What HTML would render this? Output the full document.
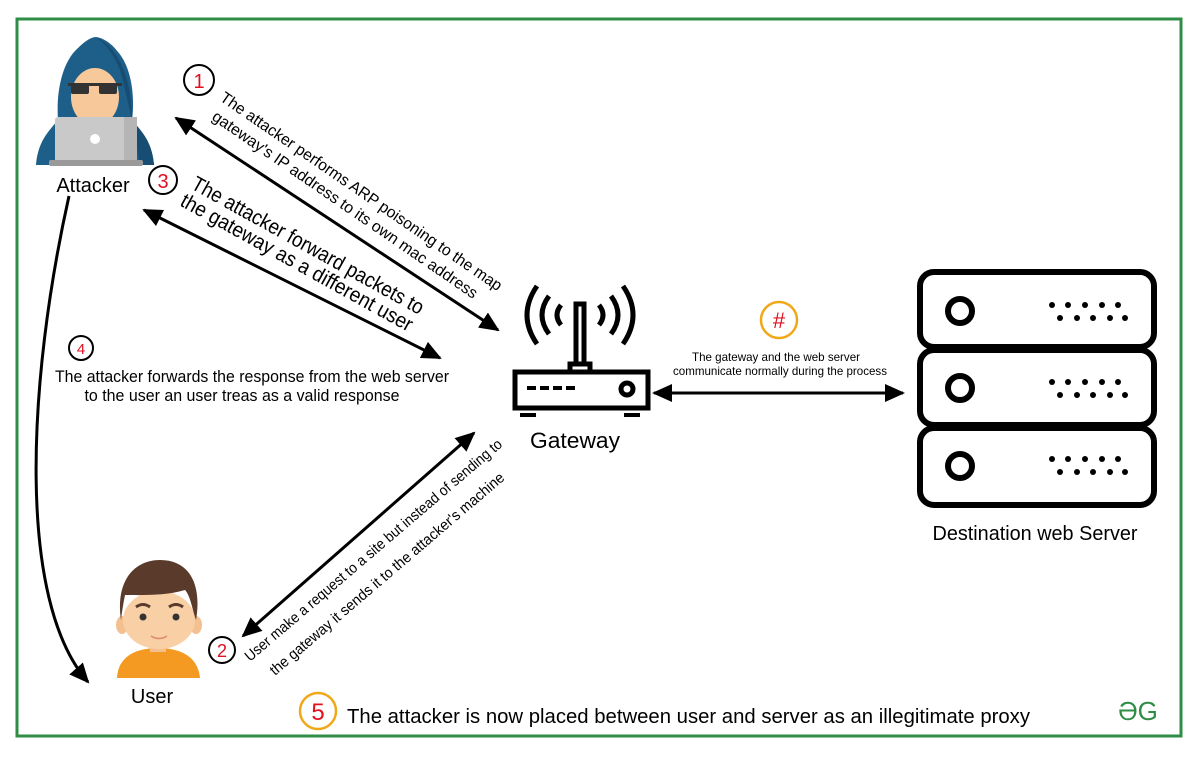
<!DOCTYPE html>
<html><head><meta charset="utf-8"><style>
html,body{margin:0;padding:0;background:#fff}
svg{display:block}
text{font-family:"Liberation Sans",sans-serif}
</style></head><body>
<svg width="1200" height="763" viewBox="0 0 1200 763" xmlns="http://www.w3.org/2000/svg">
<defs>
<marker id="ahb" markerWidth="20" markerHeight="18" refX="18" refY="9" orient="auto-start-reverse" markerUnits="userSpaceOnUse" viewBox="0 0 20 18">
<path d="M0,0 L20,9 L0,18 z" fill="#000"/></marker>
</defs>
<rect x="17" y="19" width="1164" height="717" fill="none" stroke="#2f8d46" stroke-width="3"/>

<!-- Attacker -->
<path d="M36,165 C38,140 50,130 58,120 C56,92 62,62 78,48 C86,40 92,37 96,37 C104,38 112,44 118,52 C132,68 135,98 132,120 C140,130 152,140 154,165 Z" fill="#1e5f8a"/>
<path d="M96,37 C112,44 132,68 132,120 C140,130 152,140 154,165 L140,165 C134,130 128,100 120,70 C114,55 106,44 96,37Z" fill="#174d73"/>
<ellipse cx="95" cy="97" rx="24" ry="29" fill="#f6c89a"/>
<rect x="68" y="83" width="54" height="3" fill="#333"/>
<rect x="71" y="85" width="18" height="9" rx="2" fill="#333"/>
<rect x="99" y="85" width="18" height="9" rx="2" fill="#333"/>
<rect x="55" y="117" width="82" height="46" rx="3" fill="#c9c9c9"/>
<rect x="124" y="117" width="13" height="46" fill="#b5b5b5"/>
<circle cx="95" cy="139" r="5" fill="#fff"/>
<rect x="49" y="160" width="94" height="6" rx="2" fill="#9a9a9a"/>
<text x="93" y="192" font-size="20" text-anchor="middle">Attacker</text>

<!-- User -->
<path d="M117,678 C118,655 138,648 158,648 C178,648 198,655 200,678 Z" fill="#f49a22"/>
<rect x="150" y="638" width="16" height="14" fill="#f4c090"/>
<ellipse cx="122" cy="625" rx="6" ry="9" fill="#f4c090"/>
<ellipse cx="196" cy="625" rx="6" ry="9" fill="#f4c090"/>
<ellipse cx="159" cy="620" rx="36" ry="29" fill="#f9cfa6"/>
<path d="M121,620 C115,580 135,560 160,560 C190,560 202,585 196,620 C192,608 190,595 185,590 C165,596 140,595 125,595 C123,605 122,612 121,620Z" fill="#5a3b2b"/>
<circle cx="143" cy="617" r="3.5" fill="#333"/>
<circle cx="176" cy="617" r="3.5" fill="#333"/>
<path d="M136,607 q7,-5 14,0 M169,607 q7,-5 14,0" stroke="#5a3b2b" stroke-width="3" fill="none"/>
<path d="M151,636 q8,5 16,0" stroke="#d98a6a" stroke-width="1.5" fill="none"/>
<text x="152" y="703" font-size="20" text-anchor="middle">User</text>

<!-- Gateway -->
<g fill="none" stroke="#000" stroke-width="5">
<rect x="515" y="372" width="133" height="36"/>
<rect x="576" y="304" width="8" height="60"/>
<rect x="570" y="364" width="20" height="8"/>
<circle cx="627" cy="389" r="6"/>
<path d="M561,305 q-8,10 0,20 M549,296 q-14,19 0,38 M537,286 q-20,29 0,58"/>
<path d="M599,305 q8,10 0,20 M611,296 q14,19 0,38 M623,286 q20,29 0,58"/>
</g>
<g fill="#000">
<rect x="527" y="386" width="9" height="4"/><rect x="540" y="386" width="9" height="4"/><rect x="553" y="386" width="9" height="4"/><rect x="566" y="386" width="9" height="4"/>
<rect x="520" y="413" width="16" height="4"/><rect x="624" y="413" width="16" height="4"/>
</g>
<text x="575" y="448" font-size="22" text-anchor="middle" textLength="90" lengthAdjust="spacingAndGlyphs">Gateway</text>

<!-- Server -->
<g fill="none" stroke="#000" stroke-width="6">
<rect x="920" y="272" width="234" height="75" rx="14"/>
<rect x="920" y="350" width="234" height="75" rx="14"/>
<rect x="920" y="428" width="234" height="77" rx="14"/>
<circle cx="960" cy="311" r="12"/><circle cx="960" cy="388" r="12"/><circle cx="960" cy="466" r="12"/>
</g>
<g fill="#000">
<g id="dots"><circle cx="1052" cy="305" r="3"/><circle cx="1068" cy="305" r="3"/><circle cx="1085" cy="305" r="3"/><circle cx="1102" cy="305" r="3"/><circle cx="1118" cy="305" r="3"/>
<circle cx="1060" cy="318" r="3"/><circle cx="1077" cy="318" r="3"/><circle cx="1093" cy="318" r="3"/><circle cx="1110" cy="318" r="3"/><circle cx="1125" cy="318" r="3"/></g>
<use href="#dots" y="77"/><use href="#dots" y="154"/>
</g>
<text x="1035" y="540" font-size="20" text-anchor="middle" textLength="205" lengthAdjust="spacingAndGlyphs">Destination web Server</text>

<!-- Horizontal arrow -->
<line x1="654" y1="393" x2="903" y2="393" stroke="#000" stroke-width="3" marker-start="url(#ahb)" marker-end="url(#ahb)"/>
<circle cx="779" cy="320" r="18" fill="none" stroke="#f0a818" stroke-width="2.5"/>
<text x="779" y="328" font-size="22" fill="#e01020" text-anchor="middle">#</text>
<text x="776" y="361" font-size="12" text-anchor="middle" textLength="168" lengthAdjust="spacingAndGlyphs">The gateway and the web server</text>
<text x="780" y="375" font-size="12" text-anchor="middle" textLength="214" lengthAdjust="spacingAndGlyphs">communicate normally during the process</text>

<!-- Arrow 1 -->
<line x1="176" y1="118" x2="498" y2="330" stroke="#000" stroke-width="3" marker-start="url(#ahb)" marker-end="url(#ahb)"/>
<circle cx="199" cy="80" r="15" fill="none" stroke="#000" stroke-width="2"/>
<text x="199" y="88" font-size="20" fill="#e01020" text-anchor="middle">1</text>
<text transform="translate(219,100) rotate(34.5)" font-size="16" textLength="338" lengthAdjust="spacingAndGlyphs">The attacker performs ARP  poisoning to the map</text>
<text transform="translate(211,119) rotate(34.5)" font-size="16" textLength="318" lengthAdjust="spacingAndGlyphs">gateway's IP address to its own mac address</text>

<!-- Arrow 3 -->
<line x1="144" y1="210" x2="440" y2="358" stroke="#000" stroke-width="3" marker-start="url(#ahb)" marker-end="url(#ahb)"/>
<circle cx="163" cy="180" r="14" fill="none" stroke="#000" stroke-width="2"/>
<text x="163" y="188" font-size="20" fill="#e01020" text-anchor="middle">3</text>
<text transform="translate(190,188) rotate(29)" font-size="21" textLength="262" lengthAdjust="spacingAndGlyphs">The attacker forward packets to</text>
<text transform="translate(179,205) rotate(29)" font-size="21" textLength="262" lengthAdjust="spacingAndGlyphs">the gateway as a different user</text>

<!-- 4 -->
<circle cx="81" cy="348" r="12" fill="none" stroke="#000" stroke-width="2"/>
<text x="81" y="354" font-size="15" fill="#e01020" text-anchor="middle">4</text>
<text x="252" y="382" font-size="17" text-anchor="middle" textLength="394" lengthAdjust="spacingAndGlyphs">The attacker forwards the response from the web server</text>
<text x="242" y="401" font-size="17" text-anchor="middle" textLength="315" lengthAdjust="spacingAndGlyphs">to the user an user treas as a valid response</text>

<!-- Curve -->
<path d="M69,196 C28,380 16,600 88,682" fill="none" stroke="#000" stroke-width="3" marker-end="url(#ahb)"/>

<!-- Arrow 2 -->
<line x1="243" y1="636" x2="474" y2="433" stroke="#000" stroke-width="3" marker-start="url(#ahb)" marker-end="url(#ahb)"/>
<circle cx="222" cy="650" r="13" fill="none" stroke="#000" stroke-width="2"/>
<text x="222" y="657" font-size="18" fill="#e01020" text-anchor="middle">2</text>
<text transform="translate(250,662) rotate(-40.5)" font-size="15" textLength="333" lengthAdjust="spacingAndGlyphs">User make a request to a site but instead of sending to</text>
<text transform="translate(275,676) rotate(-40.5)" font-size="15" textLength="303" lengthAdjust="spacingAndGlyphs">the gateway it sends it to the attacker's machine</text>

<!-- 5 -->
<circle cx="318" cy="711" r="18" fill="none" stroke="#f0a818" stroke-width="2.5"/>
<text x="318" y="720" font-size="24" fill="#e01020" text-anchor="middle">5</text>
<text x="347" y="723" font-size="20" textLength="683" lengthAdjust="spacingAndGlyphs">The attacker is now placed between user and server as an illegitimate proxy</text>

<!-- GG -->
<text x="1138" y="720" font-size="26" fill="#2f8d46" text-anchor="middle" font-family="Liberation Serif, serif">ƏG</text>
</svg>
</body></html>
